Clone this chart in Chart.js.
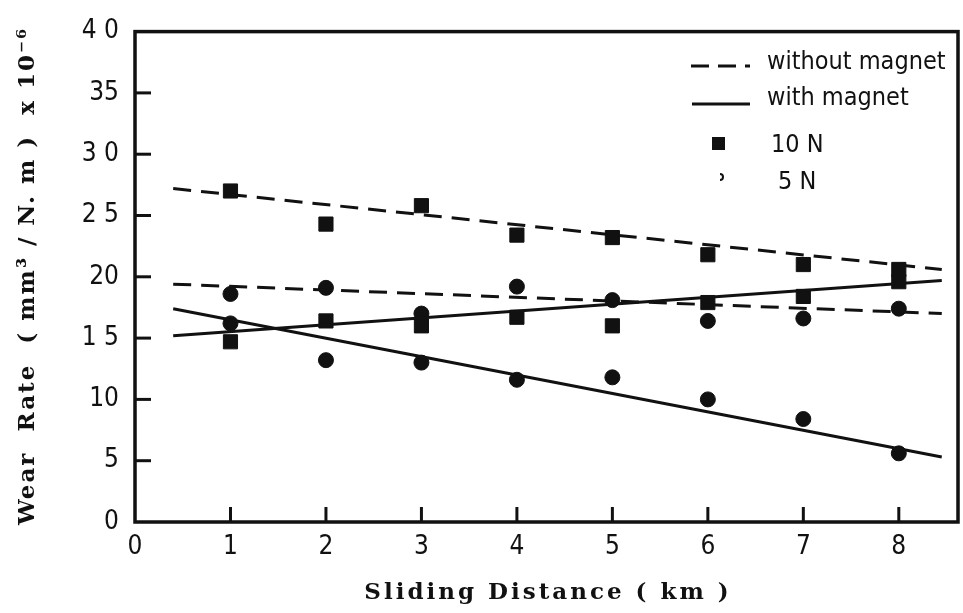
<!DOCTYPE html>
<html><head><meta charset="utf-8">
<script src="https://cdn.jsdelivr.net/npm/chart.js@4"></script>
<style>html,body{margin:0;padding:0;background:#fff}canvas{display:block}</style>
</head><body>
<canvas id="c" width="963" height="613"></canvas>
<script>
// ---- data ----
const distance = [1, 2, 3, 4, 5, 6, 7, 8];
const wear10N_without = [27.0, 24.3, 25.8, 23.4, 23.2, 21.8, 21.0, 20.6];
const wear10N_with    = [14.7, 16.4, 16.0, 16.7, 16.0, 17.9, 18.4, 19.6];
const wear5N_without  = [18.6, 19.1, 17.0, 19.2, 18.1, 16.4, 16.6, 17.4];
const wear5N_with     = [16.2, 13.2, 13.0, 11.6, 11.8, 10.0, 8.4, 5.6];
// fitted trend lines (start / end)
const trendX = [0.4, 8.45];
const trend10N_without = [27.2, 20.6];
const trend10N_with    = [15.2, 19.7];
const trend5N_without  = [19.4, 17.0];
const trend5N_with     = [17.4, 5.3];
const xTicks = [0, 1, 2, 3, 4, 5, 6, 7, 8];
const xTickLabels = ['0', '1', '2', '3', '4', '5', '6', '7', '8'];
const yTicks = [0, 5, 10, 15, 20, 25, 30, 35, 40];
const yTickLabels = ['0', '5', '10', '1 5', '20', '2 5', '3 0', '35', '4 0'];
const legendItems = ['without magnet', 'with magnet', '10 N', '5 N'];
const xTitle = 'Sliding Distance ( km )';
const yTitle = 'Wear  Rate  ( mm\u00B3 / N. m )  x 10\u207B\u2076';

const pts = (xs, ys) => xs.map((x, i) => ({x, y: ys[i]}));
const INK = '#111';
const TICKFONT = '"DejaVu Sans Condensed", "DejaVu Sans", sans-serif';

function trend(ys, dashed) {
  return {type: 'line', data: pts(trendX, ys), showLine: true, borderColor: INK,
    borderWidth: 3, borderDash: dashed ? [18, 10] : [], pointRadius: 0, fill: false};
}
function marks(ys, style) {
  return {type: 'scatter', data: pts(distance, ys), showLine: false, pointStyle: style,
    pointRadius: style === 'rect' ? 10 : 7.5, backgroundColor: INK, borderColor: INK, borderWidth: 1};
}

const decor = {
  id: 'decor',
  afterDraw(chart) {
    const c = chart.ctx, a = chart.chartArea, xs = chart.scales.x, ys = chart.scales.y;
    c.save();
    c.strokeStyle = INK; c.lineWidth = 3.5;
    c.strokeRect(a.left, a.top, a.right - a.left, a.bottom - a.top);
    // inward ticks
    c.lineWidth = 3;
    yTicks.forEach(v => { const p = ys.getPixelForValue(v);
      if (v > 0 && v < 40) { c.beginPath(); c.moveTo(a.left, p); c.lineTo(a.left + 16, p); c.stroke(); } });
    xTicks.forEach(v => { const p = xs.getPixelForValue(v);
      if (v > 0) { c.beginPath(); c.moveTo(p, a.bottom); c.lineTo(p, a.bottom - 15); c.stroke(); } });
    // axis titles
    c.fillStyle = INK;
    c.font = 'bold 23px "DejaVu Serif"';
    c.letterSpacing = '3px';
    c.textAlign = 'center'; c.textBaseline = 'middle';
    c.fillText(xTitle, 548, 593);
    c.translate(28, 276); c.rotate(-Math.PI / 2);
    c.font = 'bold 23px "DejaVu Serif"';
    c.letterSpacing = '2px';
    c.fillText(yTitle, 0, 0);
    c.restore();
    // legend
    c.save();
    c.fillStyle = INK; c.strokeStyle = INK; c.lineWidth = 3;
    c.font = '25px ' + TICKFONT; c.textBaseline = 'middle'; c.textAlign = 'left';
    c.setLineDash([18, 9]);
    c.beginPath(); c.moveTo(691, 66); c.lineTo(750, 66); c.stroke();
    c.setLineDash([]);
    c.beginPath(); c.moveTo(692, 104); c.lineTo(750, 104); c.stroke();
    c.fillText(legendItems[0], 767, 62);
    c.fillText(legendItems[1], 767, 98);
    c.fillRect(712, 137, 13, 13);
    c.fillText(legendItems[2], 771, 145);
    c.beginPath(); c.arc(720, 177, 3, -Math.PI / 2, Math.PI / 2); c.lineWidth = 2; c.stroke();
    c.fillText(legendItems[3], 778, 182);
    c.restore();
  }
};

new Chart(document.getElementById('c'), {
  data: {datasets: [
    trend(trend10N_without, true),
    trend(trend5N_without, true),
    trend(trend10N_with, false),
    trend(trend5N_with, false),
    marks(wear10N_without, 'rect'),
    marks(wear10N_with, 'rect'),
    marks(wear5N_without, 'circle'),
    marks(wear5N_with, 'circle')
  ]},
  options: {
    responsive: false, animation: false,
    layout: {autoPadding: false, padding: {top: 22, right: 5, left: 0, bottom: 0}},
    plugins: {legend: {display: false}, tooltip: {enabled: false}},
    scales: {
      x: {type: 'linear', min: 0, max: 8.62,
        afterBuildTicks: s => { s.ticks = xTicks.map(v => ({value: v})); },
        afterFit: s => { s.height = 91; s.paddingRight = 0; s.paddingLeft = 0; },
        grid: {display: false, drawTicks: false}, border: {display: false},
        ticks: {padding: 10, color: INK, font: {family: TICKFONT, size: 26},
          callback: (v) => xTickLabels[xTicks.indexOf(v)] ?? ''}},
      y: {type: 'linear', min: 0, max: 40,
        afterBuildTicks: s => { s.ticks = yTicks.map(v => ({value: v})); },
        afterFit: s => { s.width = 135; },
        grid: {display: false, drawTicks: false}, border: {display: false},
        ticks: {padding: 16, color: INK, font: {family: TICKFONT, size: 26},
          callback: (v) => yTickLabels[yTicks.indexOf(v)] ?? ''}}
    }
  },
  plugins: [decor]
});
</script>
</body></html>
